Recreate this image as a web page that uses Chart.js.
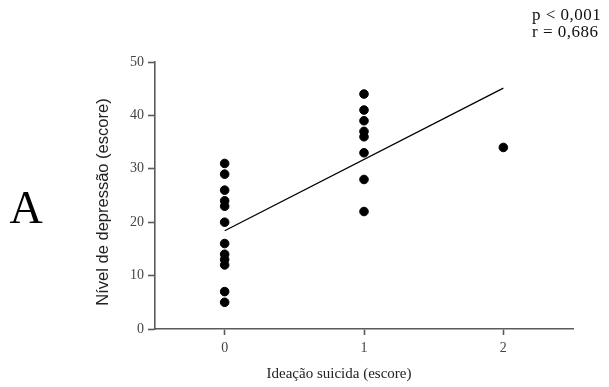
<!DOCTYPE html>
<html>
<head>
<meta charset="utf-8">
<script src="https://cdn.jsdelivr.net/npm/chart.js@4"></script>
<style>
  html, body { margin: 0; padding: 0; background: #fff; }
  #wrap { width: 609px; height: 387px; }
</style>
</head>
<body>
<div id="wrap"><canvas id="c" width="609" height="387"></canvas></div>
<script>
'use strict';

// ideation score (x) and depression score (y) per patient
const ideationX = [0, 0, 0, 0, 0, 0, 0, 0, 0, 0, 0, 0,
                   1, 1, 1, 1, 1, 1, 1, 1,
                   2];
const depressionY = [31, 29, 26, 24, 23, 20, 16, 14, 13, 12, 7, 5,
                     44, 41, 39, 37, 36, 33, 28, 22,
                     34];
// fitted line ends
const fitX = [0, 2];
const fitY = [18.4, 45.1];

const xTicks = [0, 1, 2];
const yTicks = [0, 10, 20, 30, 40, 50];

const xTitle = 'Ideação suicida (escore)';
const yTitle = 'Nível de depressão (escore)';
const panelLabel = 'A';
const statLines = ['p < 0,001', 'r = 0,686'];

const serif = '"Liberation Serif", "Times New Roman", serif';
const sans = '"Liberation Sans", Arial, sans-serif';
const axisGrey = '#5a5a5a';

const scatter = ideationX.map((x, i) => ({ x, y: depressionY[i] }));
const fit = fitX.map((x, i) => ({ x, y: fitY[i] }));

// text that sits outside the plot area
const textPlugin = {
  id: 'extraText',
  afterDraw(chart) {
    const { ctx } = chart;
    ctx.save();
    ctx.fillStyle = '#000';
    ctx.textAlign = 'center';
    ctx.textBaseline = 'alphabetic';
    ctx.font = '46px ' + serif;
    ctx.fillText(panelLabel, 26, 223);

    ctx.textAlign = 'left';
    ctx.font = '17px ' + serif;
    ctx.letterSpacing = '0.5px';
    ctx.fillStyle = '#111';
    ctx.fillText(statLines[0], 532, 20);
    ctx.fillText(statLines[1], 532, 37);
    ctx.letterSpacing = '0px';

    ctx.fillStyle = '#222';
    ctx.textAlign = 'center';
    ctx.font = '15px ' + serif;
    ctx.fillText(xTitle, 339, 378);

    ctx.translate(103, 202);
    ctx.rotate(-Math.PI / 2);
    ctx.textBaseline = 'middle';
    ctx.font = '16.5px ' + sans;
    ctx.fillText(yTitle, 0, 0);
    ctx.restore();
  }
};

new Chart(document.getElementById('c'), {
  type: 'scatter',
  data: {
    datasets: [
      {
        data: scatter,
        backgroundColor: '#000',
        borderColor: '#000',
        pointRadius: 4.3,
        pointHoverRadius: 4.3
      },
      {
        type: 'line',
        data: fit,
        borderColor: '#000',
        borderWidth: 1.3,
        pointRadius: 0,
        fill: false
      }
    ]
  },
  options: {
    responsive: false,
    animation: false,
    events: [],
    layout: { padding: { top: 62, right: 36, left: 0, bottom: 0 } },
    plugins: { legend: { display: false }, tooltip: { enabled: false } },
    scales: {
      x: {
        type: 'linear',
        min: -0.5,
        max: 2.5,
        afterBuildTicks: s => { s.ticks = xTicks.map(v => ({ value: v })); },
        afterFit: s => { s.height = 58; },
        border: { color: axisGrey, width: 1.6 },
        grid: { drawOnChartArea: false, tickLength: 6, color: axisGrey, tickWidth: 1.6 },
        ticks: { padding: 5, color: '#444', font: { family: serif, size: 14 } }
      },
      y: {
        min: 0,
        max: 50,
        afterBuildTicks: s => { s.ticks = yTicks.map(v => ({ value: v })); },
        afterFit: s => { s.width = 155; },
        border: { color: axisGrey, width: 1.6 },
        grid: { drawOnChartArea: false, tickLength: 7, color: axisGrey, tickWidth: 1.6 },
        ticks: { padding: 4, color: '#444', font: { family: serif, size: 14 } }
      }
    }
  },
  plugins: [textPlugin]
});
</script>
</body>
</html>
